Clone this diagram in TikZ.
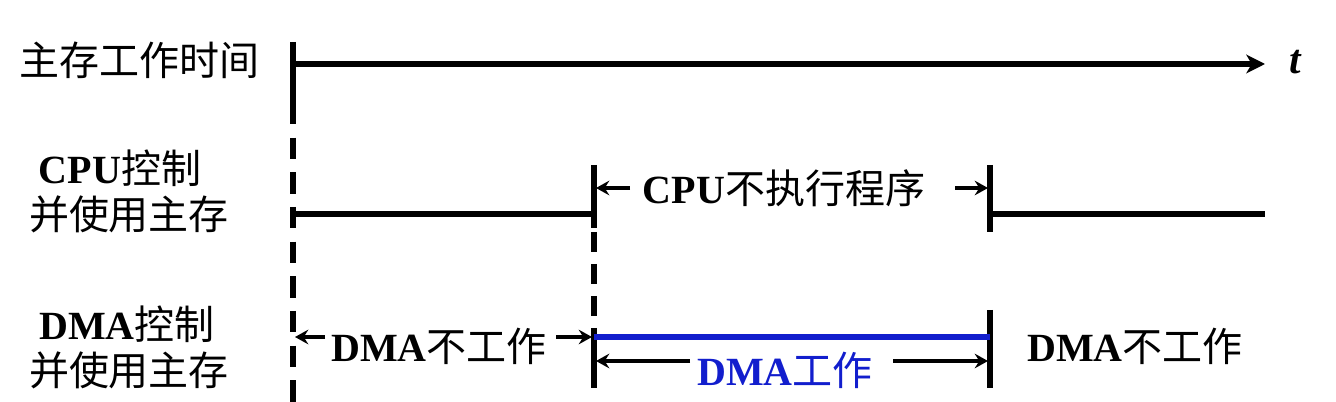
\documentclass[tikz,border=0pt]{standalone}
\usepackage{fontspec}
\setmainfont{Liberation Serif}
\newfontfamily\cjk{Noto Sans CJK SC}
\usetikzlibrary{arrows.meta}
\newcommand\zhtxt[1]{{\cjk #1}}
\definecolor{dmablue}{RGB}{18,30,205}
\begin{document}
\begin{tikzpicture}[x=0.75pt,y=-0.75pt,
  lbl/.style={font=\fontsize{30}{34}\selectfont, inner sep=0pt},
  thick line/.style={line width=4pt},
  dash line/.style={line width=4pt, dash pattern=on 16pt off 10pt},
  dim arrow/.style={line width=3pt, -{Stealth[length=10pt,width=11pt,inset=3.5pt]}},
  axis arrow/.style={line width=4pt, -{Stealth[length=14pt,width=14pt,inset=4pt]}}]
\useasboundingbox (0,0) rectangle (1336,402);

% left labels
\node[lbl, anchor=west] (lmain) at (19,60) {\zhtxt{主存工作时间}};
\node[lbl] (lcpu1) at (120,168) {\textbf{CPU}\zhtxt{控制}};
\node[lbl] (lcpu2) at (129,214) {\zhtxt{并使用主存}};
\node[lbl] (ldma1) at (127,324) {\textbf{DMA}\zhtxt{控制}};
\node[lbl] (ldma2) at (129,370) {\zhtxt{并使用主存}};

% coordinates
\coordinate (t0top) at (293,42);
\coordinate (t0) at (293,64);
\coordinate (t0bot) at (293,103);
\coordinate (t0end) at (293,402);
\coordinate (axend) at (1265,64);
\node[font=\fontsize{31}{34}\selectfont\bfseries\itshape, inner sep=0pt] (tl) at (1295,62) {t};

\coordinate (c1a) at (293,214);
\coordinate (c1b) at (594,214);
\coordinate (v1top) at (594,165);
\coordinate (v1bot) at (594,228);
\coordinate (v2top) at (990,165);
\coordinate (v2bot) at (990,232);
\coordinate (c2a) at (990,214);
\coordinate (c2b) at (1265,214);

% time axis
\draw[thick line] (t0top) -- (t0bot);
\draw[axis arrow] (t0) -- (axend);
\draw[dash line] (t0bot) -- (t0end);

% CPU line
\draw[thick line] (c1a) -- (c1b);
\draw[thick line] (v1top) -- (v1bot);
\draw[thick line] (v2top) -- (v2bot);
\draw[thick line] (c2a) -- (c2b);

% dashed / solid verticals for DMA
\coordinate (d1a) at (594,232);
\coordinate (d1b) at (594,320);
\coordinate (s1a) at (594,328);
\coordinate (s1b) at (594,388);
\coordinate (s2a) at (990,310);
\coordinate (s2b) at (990,388);
\draw[dash line, dash pattern=on 15pt off 9pt] (d1a) -- (d1b);
\draw[thick line] (s1a) -- (s1b);
\draw[thick line] (s2a) -- (s2b);

% blue DMA line
\coordinate (b1) at (594,337);
\coordinate (b2) at (990,337);
\draw[line width=5pt, dmablue] (b1) -- (b2);

% CPU not executing
\node[lbl] (cpux) at (784,188) {\textbf{CPU}\zhtxt{不执行程序}};
\coordinate (ca1) at (630,188);
\coordinate (ca1e) at (596,188);
\coordinate (ca2) at (955,188);
\coordinate (ca2e) at (988,188);
\draw[dim arrow] (ca1) -- (ca1e);
\draw[dim arrow] (ca2) -- (ca2e);

% DMA not working (left)
\node[lbl] (dmaoff1) at (439,346) {\textbf{DMA}\zhtxt{不工作}};
\coordinate (da1) at (325,337);
\coordinate (da1e) at (295,337);
\coordinate (da2) at (556,337);
\coordinate (da2e) at (592,337);
\draw[dim arrow] (da1) -- (da1e);
\draw[dim arrow] (da2) -- (da2e);

% DMA working
\node[lbl, text=dmablue] (dmaon) at (785,370) {\textbf{DMA}\zhtxt{工作}};
\coordinate (wa1) at (690,361);
\coordinate (wa1e) at (596,361);
\coordinate (wa2) at (893,361);
\coordinate (wa2e) at (988,361);
\draw[dim arrow] (wa1) -- (wa1e);
\draw[dim arrow] (wa2) -- (wa2e);

% DMA not working (right)
\node[lbl] (dmaoff2) at (1135,346) {\textbf{DMA}\zhtxt{不工作}};
\end{tikzpicture}
\end{document}
